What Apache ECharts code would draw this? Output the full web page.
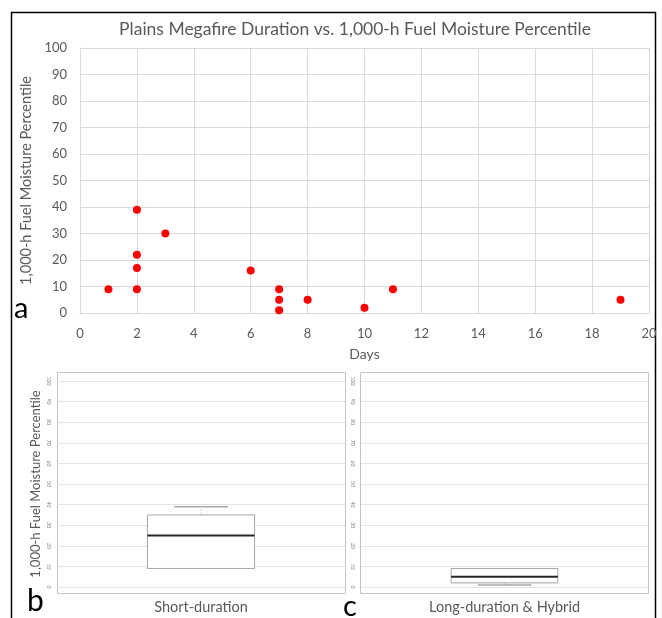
<!DOCTYPE html>
<html>
<head>
<meta charset="utf-8">
<script src="https://cdn.jsdelivr.net/npm/echarts@6/dist/echarts.min.js"></script>
<style>html,body{margin:0;padding:0;background:#fff;}#c{width:662px;height:618px;}</style>
</head>
<body>
<div id="c"></div>
<script>
// ---- data ----
const titleText = 'Plains Megafire Duration vs. 1,000-h Fuel Moisture Percentile';
const yName = '1,000-h Fuel Moisture Percentile';
const xName = 'Days';
const days = [1, 2, 2, 2, 2, 3, 6, 7, 7, 7, 8, 10, 11, 19];
const moisture = [9, 39, 22, 17, 9, 30, 16, 9, 5, 1, 5, 2, 9, 5];
const boxCategories = ['Short-duration', 'Long-duration & Hybrid'];
// [min, q1, median, q3, max]
const shortStats = [9, 9, 25, 35, 39];
const longStats = [1, 2, 5, 9, 9];
const panelLetters = ['a', 'b', 'c'];

const FONT = 'Lato, "Open Sans", sans-serif';
const GRAY = '#595959';
const GRID = '#d9d9d9';

const chart = echarts.init(document.getElementById('c'), null, {renderer: 'canvas'});

function renderBox(params, api) {
  const min = api.value(1), q1 = api.value(2), med = api.value(3), q3 = api.value(4), max = api.value(5);
  const cat = api.value(0);
  const bw = api.size([1, 0])[0] * 0.372;
  const cx = api.coord([cat, 0])[0];
  const yMin = api.coord([cat, min])[1], yQ1 = api.coord([cat, q1])[1], yMed = api.coord([cat, med])[1];
  const yQ3 = api.coord([cat, q3])[1], yMax = api.coord([cat, max])[1];
  const boxStroke = '#a6a6a6';
  const children = [];
  if (yMax < yQ3) children.push({type: 'line', shape: {x1: cx, y1: yQ3, x2: cx, y2: yMax}, style: {stroke: '#c8c8c8', lineWidth: 1, lineDash: [2, 2]}});
  if (yMin > yQ1) children.push({type: 'line', shape: {x1: cx, y1: yQ1, x2: cx, y2: yMin}, style: {stroke: '#c8c8c8', lineWidth: 1, lineDash: [2, 2]}});
  children.push({type: 'rect', shape: {x: cx - bw / 2, y: yQ3, width: bw, height: yQ1 - yQ3}, style: {fill: '#fff', stroke: boxStroke, lineWidth: 1}});
  if (yMax < yQ3) children.push({type: 'line', shape: {x1: cx - bw / 4, y1: yMax, x2: cx + bw / 4, y2: yMax}, style: {stroke: boxStroke, lineWidth: 1.5}});
  if (yMin > yQ1) children.push({type: 'line', shape: {x1: cx - bw / 4, y1: yMin, x2: cx + bw / 4, y2: yMin}, style: {stroke: boxStroke, lineWidth: 1.5}});
  children.push({type: 'line', shape: {x1: cx - bw / 2, y1: yMed, x2: cx + bw / 2, y2: yMed}, style: {stroke: '#262626', lineWidth: 2}});
  return {type: 'group', children: children};
}

function smallY(gridIndex, withName) {
  return {
    type: 'value', gridIndex: gridIndex, min: 0, max: 100, interval: 10,
    axisLine: {show: false}, axisTick: {show: false},
    axisLabel: {fontSize: 5, color: '#7f7f7f', rotate: -90, margin: 6, fontFamily: FONT},
    splitLine: {lineStyle: {color: '#e3e3e3', width: 1}},
    name: withName ? yName : '', nameLocation: 'middle', nameGap: 15,
    nameTextStyle: {fontSize: 13, color: GRAY, fontFamily: FONT}
  };
}
function smallX(gridIndex, cat) {
  return {
    type: 'category', gridIndex: gridIndex, data: [cat],
    axisLine: {show: false}, axisTick: {show: false},
    axisLabel: {fontSize: 14.5, color: GRAY, margin: 13, fontFamily: FONT},
    splitLine: {show: false}
  };
}

const option = {
  animation: false,
  backgroundColor: '#fff',
  title: {
    text: titleText, left: 350, textAlign: 'center', top: 15,
    textStyle: {fontSize: 17.5, fontWeight: 'normal', color: GRAY, fontFamily: FONT}
  },
  grid: [
    {left: 80, right: 13, top: 48, bottom: 305},
    {left: 57, width: 288, top: 381, height: 206},
    {left: 361, width: 287, top: 381, height: 206}
  ],
  xAxis: [
    {
      type: 'value', gridIndex: 0, min: 0, max: 20, interval: 2,
      axisLine: {show: true, lineStyle: {color: GRID}}, axisTick: {show: false},
      axisLabel: {fontSize: 13, color: GRAY, margin: 14, fontFamily: FONT},
      splitLine: {show: true, lineStyle: {color: GRID}},
      name: xName, nameLocation: 'middle', nameGap: 34,
      nameTextStyle: {fontSize: 14, color: GRAY, fontFamily: FONT}
    },
    smallX(1, boxCategories[0]),
    smallX(2, boxCategories[1])
  ],
  yAxis: [
    {
      type: 'value', gridIndex: 0, min: 0, max: 100, interval: 10,
      axisLine: {show: true, lineStyle: {color: GRID}}, axisTick: {show: false},
      axisLabel: {fontSize: 13, color: GRAY, margin: 13, fontFamily: FONT},
      splitLine: {show: true, lineStyle: {color: GRID}},
      name: yName, nameLocation: 'middle', nameGap: 32,
      nameTextStyle: {fontSize: 14.5, color: GRAY, fontFamily: FONT}
    },
    smallY(1, true),
    smallY(2, false)
  ],
  series: [
    {
      type: 'scatter', xAxisIndex: 0, yAxisIndex: 0,
      data: days.map((d, i) => [d, moisture[i]]),
      symbolSize: 8, itemStyle: {color: '#ff0000', opacity: 1}
    },
    {
      type: 'custom', xAxisIndex: 1, yAxisIndex: 1,
      data: [[0].concat(shortStats)], renderItem: renderBox, encode: {x: 0, y: [1, 2, 3, 4, 5]}
    },
    {
      type: 'custom', xAxisIndex: 2, yAxisIndex: 2,
      data: [[0].concat(longStats)], renderItem: renderBox, encode: {x: 0, y: [1, 2, 3, 4, 5]}
    }
  ],
  graphic: [
    {type: 'rect', shape: {x: 11.5, y: 12.5, width: 644, height: 640}, style: {fill: 'none', stroke: '#000', lineWidth: 1.5}, silent: true},
    {type: 'rect', shape: {x: 57.5, y: 372.5, width: 288, height: 221}, style: {fill: 'none', stroke: '#c4c4c4', lineWidth: 1}, silent: true},
    {type: 'rect', shape: {x: 360.5, y: 372.5, width: 288, height: 221}, style: {fill: 'none', stroke: '#c4c4c4', lineWidth: 1}, silent: true},
    {type: 'text', left: 14, top: 294, style: {text: panelLetters[0], fontSize: 29, fill: '#000', fontFamily: FONT}},
    {type: 'text', left: 27, top: 586, style: {text: panelLetters[1], fontSize: 30, fill: '#000', fontFamily: FONT}},
    {type: 'text', left: 343, top: 592, style: {text: panelLetters[2], fontSize: 29, fill: '#000', fontFamily: FONT}}
  ]
};
chart.setOption(option);
</script>
</body>
</html>
